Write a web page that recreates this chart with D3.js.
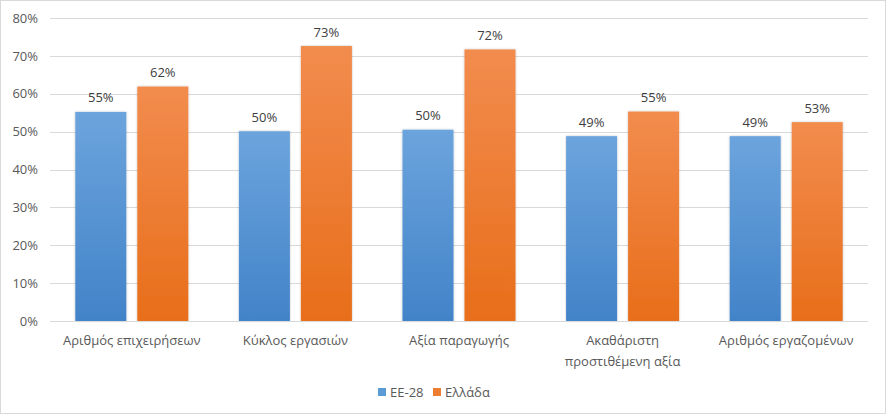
<!DOCTYPE html>
<html>
<head>
<meta charset="utf-8">
<script src="https://cdn.jsdelivr.net/npm/d3@7"></script>
<style>
  html, body { margin: 0; padding: 0; background: #fff; }
  svg { display: block; font-family: "Open Sans", "Liberation Sans", Arial, sans-serif; }
</style>
</head>
<body>
<svg id="chart" width="887" height="417"></svg>
<script>
const categories = [
  ["Αριθμός επιχειρήσεων"],
  ["Κύκλος εργασιών"],
  ["Αξία παραγωγής"],
  ["Ακαθάριστη", "προστιθέμενη αξία"],
  ["Αριθμός εργαζομένων"]
];
const seriesNames = ["ΕΕ-28", "Ελλάδα"];
const eu28 = [55.2, 50.1, 50.5, 48.8, 48.8];
const greece = [61.9, 72.6, 71.7, 55.3, 52.5];
const euLabels = ["55%", "50%", "50%", "49%", "49%"];
const grLabels = ["62%", "73%", "72%", "55%", "53%"];
const yTicks = [0, 10, 20, 30, 40, 50, 60, 70, 80];

const FONT = "'Open Sans', 'Liberation Sans', Arial, sans-serif";
const FS = "13px";
const svg = d3.select("#chart");
const W = 887, H = 417;
const m = { left: 50, right: 19, top: 18, bottom: 96 };

// border
svg.append("rect").attr("x", 0.5).attr("y", 0.5).attr("width", W - 2).attr("height", H - 4)
  .attr("fill", "#fff").attr("stroke", "#d9d9d9");

const defs = svg.append("defs");
const gradDefs = [
  { id: "gBlue", top: "#6ca4dd", bottom: "#4283c8" },
  { id: "gOrange", top: "#f28c4e", bottom: "#e86e1a" }
];
gradDefs.forEach(g => {
  const lg = defs.append("linearGradient").attr("id", g.id)
    .attr("x1", 0).attr("y1", 0).attr("x2", 0).attr("y2", 1);
  lg.append("stop").attr("offset", "0%").attr("stop-color", g.top);
  lg.append("stop").attr("offset", "100%").attr("stop-color", g.bottom);
});
const shadow = defs.append("filter").attr("id", "sh").attr("x", "-20%").attr("y", "-10%").attr("width", "140%").attr("height", "120%");
shadow.append("feDropShadow").attr("dx", 0).attr("dy", 0).attr("stdDeviation", 1.2)
  .attr("flood-color", "#000").attr("flood-opacity", 0.25);

const x = d3.scaleBand().domain(d3.range(categories.length))
  .range([m.left, W - m.right]).paddingInner(0).paddingOuter(0);
const y = d3.scaleLinear().domain([0, 80]).range([H - m.bottom, m.top]);

// gridlines
svg.append("g").selectAll("line").data(yTicks).join("line")
  .attr("x1", m.left).attr("x2", W - m.right)
  .attr("y1", d => Math.round(y(d)) + 0.5).attr("y2", d => Math.round(y(d)) + 0.5)
  .attr("stroke", "#d9d9d9").attr("stroke-width", 1);

// y axis labels
const yAxis = d3.axisLeft(y).tickValues(yTicks).tickFormat(d => d + "%").tickSize(0).tickPadding(0);
const ga = svg.append("g").attr("transform", `translate(38,0)`).call(yAxis);
ga.select(".domain").remove();
ga.selectAll("text").attr("fill", "#595959").style("font-size", FS)
  .style("font-family", FONT);

const barW = 51, gap = 11;
const series = [
  { vals: eu28, labels: euLabels, fill: "url(#gBlue)", off: -(gap / 2 + barW) },
  { vals: greece, labels: grLabels, fill: "url(#gOrange)", off: gap / 2 }
];
const cx = i => x(i) + x.bandwidth() / 2;

series.forEach(s => {
  svg.append("g").selectAll("rect").data(s.vals).join("rect")
    .attr("x", (d, i) => cx(i) + s.off)
    .attr("y", d => y(d))
    .attr("width", barW)
    .attr("height", d => y(0) - y(d))
    .attr("fill", s.fill)
    .attr("filter", "url(#sh)");
  svg.append("g").selectAll("text").data(s.vals).join("text")
    .attr("x", (d, i) => cx(i) + s.off + barW / 2)
    .attr("y", d => y(d) - 9.5)
    .attr("text-anchor", "middle")
    .attr("fill", "#404040")
    .style("font-size", FS)
    .text((d, i) => s.labels[i]);
});

// baseline
svg.append("line").attr("x1", m.left).attr("x2", W - m.right)
  .attr("y1", Math.round(y(0)) + 0.5).attr("y2", Math.round(y(0)) + 0.5)
  .attr("stroke", "#d9d9d9");

// category labels
const cl = svg.append("g").selectAll("text").data(categories).join("text")
  .attr("x", (d, i) => cx(i))
  .attr("y", 345)
  .attr("text-anchor", "middle")
  .attr("fill", "#595959")
  .style("font-size", FS);
cl.each(function (d) {
  const t = d3.select(this);
  d.forEach((line, k) => {
    t.append("tspan").attr("x", t.attr("x")).attr("dy", k === 0 ? 0 : 21).text(line);
  });
});

// legend
const legend = svg.append("g").attr("transform", "translate(378,392)");
const lx = [0, 55];
const lcolors = ["#5b9bd5", "#ed7d31"];
seriesNames.forEach((n, i) => {
  legend.append("rect").attr("x", lx[i]).attr("y", -4).attr("width", 8).attr("height", 8).attr("fill", lcolors[i]);
  legend.append("text").attr("x", lx[i] + 12).attr("y", 4.5).attr("fill", "#595959")
    .style("font-size", FS).text(n);
});
</script>
</body>
</html>
